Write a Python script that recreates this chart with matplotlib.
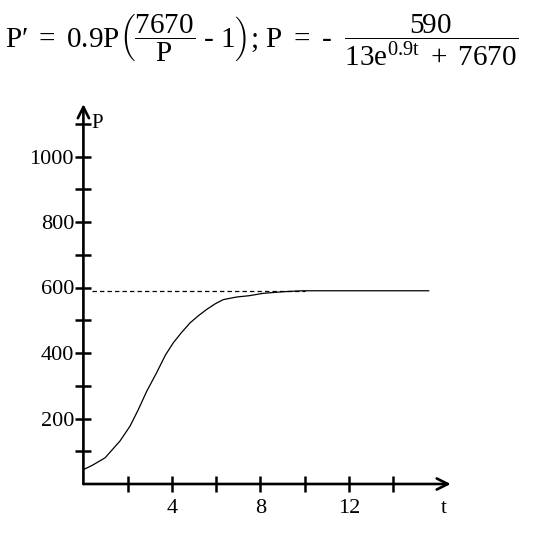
import matplotlib
matplotlib.use('Agg')
import matplotlib.pyplot as plt

# curve values
t_vals = [0, 0.4, 0.98, 1.65, 2.11, 2.48, 2.86, 3.31, 3.7, 4.06, 4.44, 4.82, 5.2,
          5.57, 5.95, 6.32, 6.93, 7.5, 8.1, 9, 9.9, 12, 14, 15.6]
p_vals = [44, 57, 80, 131, 177, 227, 283, 340, 393, 431, 463, 492, 514,
          533, 550, 563, 571, 575, 582, 587, 590, 590, 590, 590]

asymptote = 590
asym_t = [0.4, 10]

x_ticks = [2, 4, 6, 8, 10, 12, 14]
x_labels = ['', '4', '', '8', '', '12', '']
y_ticks = [100, 200, 300, 400, 500, 600, 700, 800, 900, 1000, 1100]
y_labels = ['', '200', '', '400', '', '600', '', '800', '', '1000', '']

t_max = 16.6
p_max = 1160

plt.rcParams['font.family'] = ['Liberation Serif', 'DejaVu Serif']
plt.rcParams['mathtext.fontset'] = 'custom'
plt.rcParams['mathtext.rm'] = 'Liberation Serif'
plt.rcParams['mathtext.it'] = 'Liberation Serif:italic'

fig = plt.figure(figsize=(5.44, 5.37), dpi=100)
ax = fig.add_axes([83.4 / 544, 53 / 537, t_max * 22.13 / 544, p_max * 0.3275 / 537])

ax.plot(t_vals, p_vals, color='black', lw=0.9)
ax.plot(asym_t, [asymptote, asymptote], color='black', lw=0.9, dashes=(3.5, 2.5))

ax.set_xlim(0, t_max)
ax.set_ylim(0, p_max)
for s in ax.spines.values():
    s.set_visible(False)

# axes drawn as arrows
arrow = dict(arrowstyle='->', lw=1.9, color='black', mutation_scale=20, shrinkA=0, shrinkB=0)
ax.annotate('', xy=(t_max, 0), xytext=(0, 0), arrowprops=arrow, annotation_clip=False)
ax.annotate('', xy=(0, p_max), xytext=(0, 0), arrowprops=arrow, annotation_clip=False)

ax.set_xticks(x_ticks)
ax.set_xticklabels(x_labels)
ax.set_yticks(y_ticks)
ax.set_yticklabels(y_labels)
ax.tick_params(direction='inout', length=11.5, width=1.8, labelsize=16)
ax.tick_params(axis='x', pad=5)
ax.tick_params(axis='y', pad=1)

ax.text(0.35, p_max - 60, 'P', fontsize=15, ha='left', va='center')
ax.text(t_max - 0.3, -75, 't', fontsize=15, ha='center', va='center')

eq = (r'$\mathrm{P}\prime\ =\ 0.9\mathrm{P}\left(\dfrac{7670}{\mathrm{P}}\ \text{-}\ 1\right);'
      r'\,\mathrm{P}\ =\ \text{-}\ \ \dfrac{590}{13\mathrm{e}^{0.9\mathrm{t}}\ +\ 7670}$')
fig.text(0.01, 0.925, eq, fontsize=21, ha='left', va='center')

fig.savefig('out.png', dpi=100)
